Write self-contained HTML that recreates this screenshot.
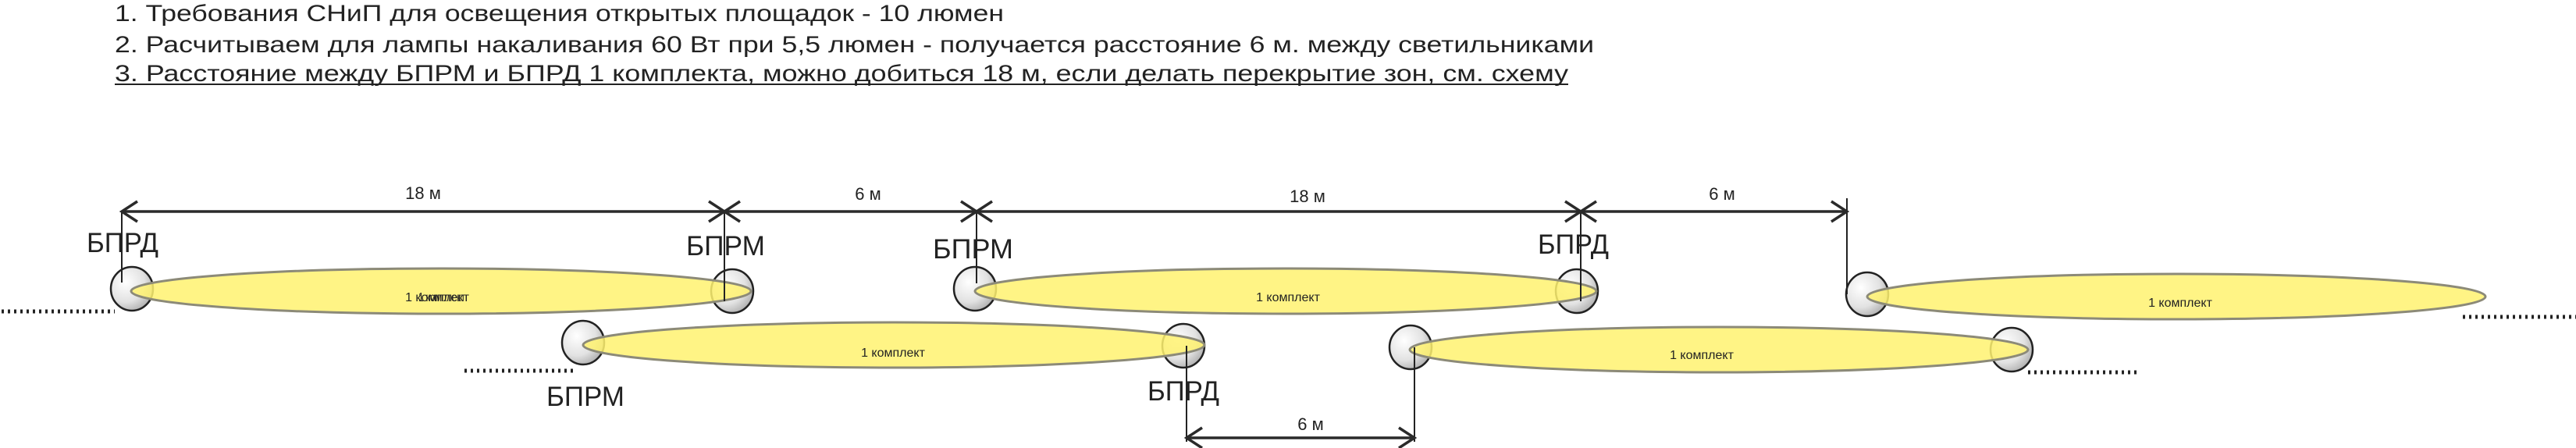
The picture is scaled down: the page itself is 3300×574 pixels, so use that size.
<!DOCTYPE html>
<html><head><meta charset="utf-8"><style>
html,body{margin:0;padding:0;background:#fff;}
svg{display:block;}
text{font-family:"Liberation Sans","DejaVu Sans",sans-serif;fill:#222;}
</style></head><body>
<svg width="3300" height="574" viewBox="0 0 3300 574" xmlns="http://www.w3.org/2000/svg">
<defs>
<radialGradient id="g" cx="0.35" cy="0.35" r="0.75">
<stop offset="0" stop-color="#ffffff"/><stop offset="0.6" stop-color="#e2e2e2"/><stop offset="1" stop-color="#a8a8a8"/>
</radialGradient>
</defs>
<!-- header text -->
<text x="147" y="27" font-size="30" textLength="1139" lengthAdjust="spacingAndGlyphs">1. Требования СНиП для освещения открытых площадок - 10 люмен</text>
<text x="147" y="67" font-size="30" textLength="1895" lengthAdjust="spacingAndGlyphs">2. Расчитываем для лампы накаливания 60 Вт  при 5,5 люмен - получается расстояние 6 м. между светильниками</text>
<text x="147" y="104" font-size="30" textLength="1862" lengthAdjust="spacingAndGlyphs">3. Расстояние между БПРМ и БПРД  1 комплекта, можно добиться 18 м, если делать перекрытие зон, см. схему</text>
<line x1="147" y1="108" x2="2009" y2="108" stroke="#222" stroke-width="2"/>

<!-- dotted lines -->
<g stroke="#222" stroke-width="5" stroke-dasharray="3 5">
<line x1="2" y1="399" x2="147" y2="399"/>
<line x1="595" y1="475" x2="738" y2="475"/>
<line x1="2598" y1="477" x2="2742" y2="477"/>
<line x1="3155" y1="406" x2="3300" y2="406"/>
</g>

<!-- lamps -->
<g stroke="#222" stroke-width="2.5" fill="url(#g)">
<ellipse cx="169" cy="370" rx="27" ry="28"/>
<ellipse cx="938" cy="373" rx="27" ry="28"/>
<ellipse cx="747" cy="439" rx="27" ry="28"/>
<ellipse cx="1249" cy="370" rx="27" ry="28"/>
<ellipse cx="2020" cy="373" rx="27" ry="28"/>
<ellipse cx="1516" cy="443" rx="27" ry="28"/>
<ellipse cx="1807" cy="445" rx="27" ry="28"/>
<ellipse cx="2577" cy="448" rx="27" ry="28"/>
<ellipse cx="2392" cy="377" rx="27" ry="28"/>
</g>

<!-- light zones -->
<g fill="#fff270" fill-opacity="0.85" stroke="#8c8a78" stroke-width="3">
<ellipse cx="565" cy="373" rx="397" ry="29"/>
<ellipse cx="1145" cy="442" rx="398" ry="29"/>
<ellipse cx="1647" cy="373" rx="398" ry="29"/>
<ellipse cx="2202" cy="448" rx="396" ry="29"/>
<ellipse cx="2788" cy="380" rx="396" ry="29"/>
</g>
<g font-size="16" text-anchor="middle">
<text x="560" y="386">1 комплект</text>
<text x="566" y="386" textLength="60" lengthAdjust="spacingAndGlyphs">1 комплект</text>
<text x="1144" y="457">1 комплект</text>
<text x="1650" y="386">1 комплект</text>
<text x="2180" y="460">1 комплект</text>
<text x="2793" y="393">1 комплект</text>
</g>

<!-- leader lines -->
<g stroke="#222" stroke-width="2">
<line x1="156" y1="271" x2="156" y2="362"/>
<line x1="928" y1="271" x2="928" y2="386"/>
<line x1="1251" y1="271" x2="1251" y2="363"/>
<line x1="2025" y1="271" x2="2025" y2="386"/>
<line x1="2366" y1="254" x2="2366" y2="377"/>
<line x1="1520" y1="443" x2="1520" y2="566"/>
<line x1="1812" y1="445" x2="1812" y2="566"/>
</g>

<!-- dimension lines -->
<g stroke="#2a2a2a" stroke-width="3.5" fill="none">
<line x1="156" y1="271" x2="2366" y2="271"/>
<polyline points="176,258 156,271 176,284"/>
<polyline points="908,258 928,271 908,284"/>
<polyline points="948,258 928,271 948,284"/>
<polyline points="1231,258 1251,271 1231,284"/>
<polyline points="1271,258 1251,271 1271,284"/>
<polyline points="2005,258 2025,271 2005,284"/>
<polyline points="2045,258 2025,271 2045,284"/>
<polyline points="2346,258 2366,271 2346,284"/>
<line x1="1520" y1="561" x2="1812" y2="561"/>
<polyline points="1540,548 1520,561 1540,574"/>
<polyline points="1792,548 1812,561 1792,574"/>
</g>
<g font-size="22" text-anchor="middle">
<text x="542" y="255">18 м</text>
<text x="1112" y="256">6 м</text>
<text x="1675" y="259">18 м</text>
<text x="2206" y="256">6 м</text>
<text x="1679" y="551">6 м</text>
</g>

<!-- labels -->
<g font-size="35">
<text x="111" y="323" textLength="92" lengthAdjust="spacingAndGlyphs">БПРД</text>
<text x="879" y="327" textLength="101" lengthAdjust="spacingAndGlyphs">БПРМ</text>
<text x="1195" y="331" textLength="103" lengthAdjust="spacingAndGlyphs">БПРМ</text>
<text x="1970" y="325" textLength="91" lengthAdjust="spacingAndGlyphs">БПРД</text>
<text x="700" y="520" textLength="100" lengthAdjust="spacingAndGlyphs">БПРМ</text>
<text x="1470" y="513" textLength="92" lengthAdjust="spacingAndGlyphs">БПРД</text>
</g>
</svg>
</body></html>
